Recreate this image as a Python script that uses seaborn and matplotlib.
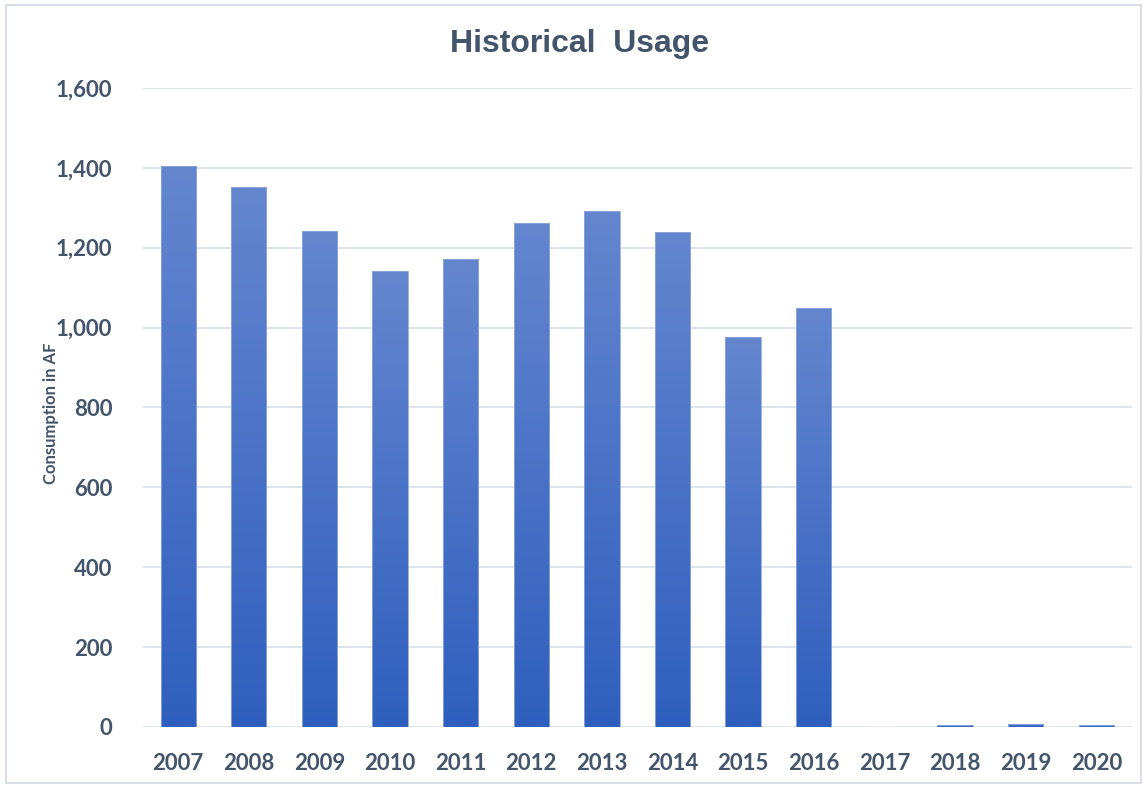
import numpy as np
import pandas as pd
import seaborn as sns
import matplotlib.pyplot as plt
from matplotlib.patches import Rectangle
from matplotlib.colors import LinearSegmentedColormap
from matplotlib.ticker import FuncFormatter

# --- Data ---
years = ["2007", "2008", "2009", "2010", "2011", "2012", "2013",
         "2014", "2015", "2016", "2017", "2018", "2019", "2020"]
usage_af = [1404, 1352, 1241, 1141, 1171, 1263, 1293,
            1240, 976, 1048, 0, 5, 8, 5]

TEXT = "#44546A"
GRID = "#D9DEE6"

df = pd.DataFrame({"Year": years, "Usage": usage_af})

sns.set_theme(style="white")
plt.rcParams["font.family"] = ["Lato", "DejaVu Sans"]

fig, ax = plt.subplots(figsize=(11.43, 7.85), dpi=100)
fig.subplots_adjust(left=0.125, right=0.99, top=0.888, bottom=0.074)

sns.barplot(data=df, x="Year", y="Usage", color="#4472C4", width=0.5,
            saturation=1, ax=ax)

# vertical gradient fill for each bar (light top, dark bottom)
cmap = LinearSegmentedColormap.from_list("bar", ["#2F5FBE", "#6486CF"])
grad = np.linspace(0, 1, 256).reshape(-1, 1)
for p in ax.patches:
    x0, y0 = p.get_x(), p.get_y()
    w, h = p.get_width(), p.get_height()
    if h <= 0:
        continue
    p.set_facecolor("none")
    p.set_edgecolor("#8FA8DC")
    p.set_linewidth(0.6)
    im = ax.imshow(grad, cmap=cmap, origin="lower", aspect="auto",
                   extent=(x0, x0 + w, y0, y0 + h), zorder=p.get_zorder() - 0.1)
    im.set_clip_path(p)

ax.set_xlim(-0.5, len(years) - 0.5)
ax.set_ylim(0, 1600)
ax.set_yticks(range(0, 1601, 200))
ax.yaxis.set_major_formatter(FuncFormatter(lambda v, _: f"{int(v):,}"))
ax.grid(axis="y", color=GRID, linewidth=1.2)
ax.set_axisbelow(True)
for s in ax.spines.values():
    s.set_visible(False)
ax.tick_params(axis="both", length=0, labelsize=16, labelcolor=TEXT)
ax.tick_params(axis="x", pad=19)
ax.tick_params(axis="y", pad=22)
for lbl in ax.get_xticklabels() + ax.get_yticklabels():
    lbl.set_fontweight("bold")

ax.set_xlabel("")
ax.set_ylabel("Consumption in AF", fontsize=12, fontweight="bold", color=TEXT)
ax.yaxis.set_label_coords(-0.085, 0.49)

fig.suptitle("Historical  Usage", x=0.507, y=0.963, fontsize=23,
             fontweight="bold", color=TEXT, family="Liberation Sans")

# chart-area border
fig.patches.append(Rectangle((0.005, 0.003), 0.993, 0.991, transform=fig.transFigure,
                             fill=False, edgecolor=GRID, linewidth=1.5))

fig.savefig("out.png", dpi=100)
